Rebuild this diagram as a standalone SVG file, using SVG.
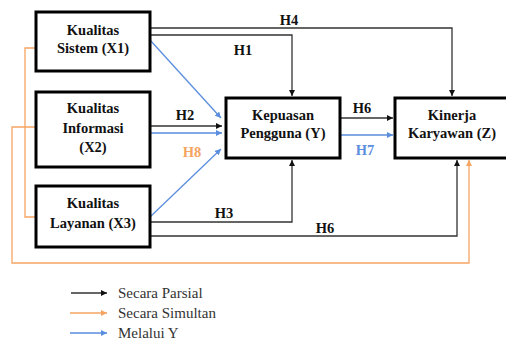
<svg xmlns="http://www.w3.org/2000/svg" width="506" height="345" viewBox="0 0 506 345">
<style>
.box{fill:#fff;stroke:#000;stroke-width:3}
.t{font-family:"Liberation Serif","Times New Roman",serif;font-weight:bold;font-size:14.5px;fill:#111;text-anchor:middle}
.lbl{font-family:"Liberation Serif","Times New Roman",serif;font-weight:bold;font-size:14.5px;fill:#111;text-anchor:middle}
.leg{font-family:"Liberation Serif","Times New Roman",serif;font-size:15px;fill:#333}
.k{fill:none;stroke:#333;stroke-width:1.3}
.b{fill:none;stroke:#5b8ede;stroke-width:1.3}
.o{fill:none;stroke:#f5a462;stroke-width:1.3}
</style>
<defs>
<marker id="ak" viewBox="0 0 10 10" refX="10" refY="5" markerWidth="6" markerHeight="6" markerUnits="userSpaceOnUse" orient="auto"><path d="M0,0 L10,5 L0,10 z" fill="#111"/></marker>
<marker id="ab" viewBox="0 0 10 10" refX="10" refY="5" markerWidth="6" markerHeight="6" markerUnits="userSpaceOnUse" orient="auto"><path d="M0,0 L10,5 L0,10 z" fill="#5b8ede"/></marker>
<marker id="ao" viewBox="0 0 10 10" refX="10" refY="5" markerWidth="6" markerHeight="6" markerUnits="userSpaceOnUse" orient="auto"><path d="M0,0 L10,5 L0,10 z" fill="#f5a462"/></marker>
</defs>
<rect width="506" height="345" fill="#fff"/>
<g id="connectors">
<path class="o" d="M36,48 H25 V217 H36"/>
<path class="o" d="M36,127 H12 V263 H469 V160" marker-end="url(#ao)"/>
<path class="k" d="M150,28 H452 V96" marker-end="url(#ak)"/>
<path class="k" d="M150,35 H292 V96" marker-end="url(#ak)"/>
<path class="b" d="M150,40 L221,118" marker-end="url(#ab)"/>
<path class="k" d="M150,126 H222" marker-end="url(#ak)"/>
<path class="b" d="M150,133 H222" marker-end="url(#ab)"/>
<path class="b" d="M150,217 L221,149" marker-end="url(#ab)"/>
<path class="k" d="M150,222 H292 V160" marker-end="url(#ak)"/>
<path class="k" d="M150,236 H457 V160" marker-end="url(#ak)"/>
<path class="k" d="M340,118 H393" marker-end="url(#ak)"/>
<path class="b" d="M340,135 H393" marker-end="url(#ab)"/>
<text class="lbl" x="289" y="25">H4</text>
<text class="lbl" x="243" y="55">H1</text>
<text class="lbl" x="185" y="120">H2</text>
<text class="lbl" x="192" y="157" style="fill:#f5a462">H8</text>
<text class="lbl" x="362" y="113">H6</text>
<text class="lbl" x="365" y="155" style="fill:#5b8ede">H7</text>
<text class="lbl" x="224" y="218">H3</text>
<text class="lbl" x="325" y="233">H6</text>
</g>
<g id="X1"><rect class="box" x="36" y="12" width="114" height="59"/><text class="t" x="93" y="35">Kualitas</text><text class="t" x="93" y="53">Sistem (X1)</text></g>
<g id="X2"><rect class="box" x="36" y="92" width="114" height="75"/><text class="t" x="93" y="113">Kualitas</text><text class="t" x="93" y="133">Informasi</text><text class="t" x="93" y="152">(X2)</text></g>
<g id="X3"><rect class="box" x="36" y="186" width="114" height="61"/><text class="t" x="93" y="208">Kualitas</text><text class="t" x="93" y="228">Layanan (X3)</text></g>
<g id="Y"><rect class="box" x="226" y="98" width="114" height="60"/><text class="t" x="283" y="120">Kepuasan</text><text class="t" x="283" y="138">Pengguna (Y)</text></g>
<g id="Z"><rect class="box" x="395" y="98" width="114" height="60"/><text class="t" x="452" y="120">Kinerja</text><text class="t" x="452" y="138">Karyawan (Z)</text></g>
<g id="legend">
<line class="k" x1="71" y1="293" x2="107" y2="293" marker-end="url(#ak)"/>
<line class="o" x1="70" y1="313" x2="107" y2="313" marker-end="url(#ao)"/>
<line class="b" x1="70" y1="333" x2="107" y2="333" marker-end="url(#ab)"/>
<text class="leg" x="118" y="298">Secara Parsial</text>
<text class="leg" x="118" y="318">Secara Simultan</text>
<text class="leg" x="118" y="338">Melalui Y</text>
</g>
</svg>
